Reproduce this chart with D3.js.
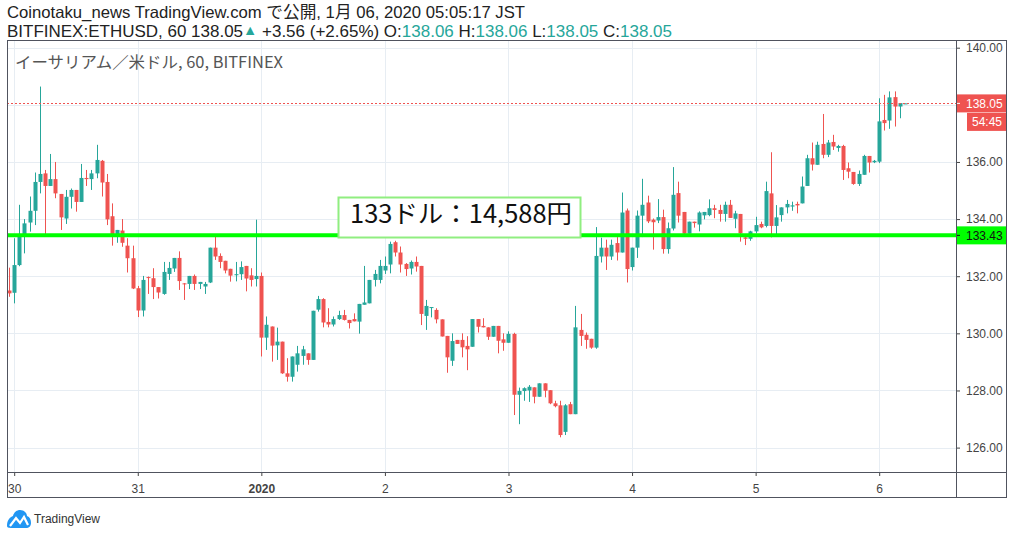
<!DOCTYPE html>
<html><head><meta charset="utf-8">
<script src="https://cdn.jsdelivr.net/npm/d3@7"></script>
<style>
html,body{margin:0;padding:0;background:#fff;}
svg{display:block;font-family:"Liberation Sans",Arial,sans-serif;}
</style></head>
<body>
<svg id="c" width="1014" height="537"></svg>
<script>
// ---- data (hourly candles, BITFINEX ETHUSD, JST) ----
const opens = [131.5,131.42,132.39,133.45,133.88,134.29,135.3,135.6,135.16,135.4,134.88,134.02,134.78,135.02,134.6,135.44,135.4,135.6,136.04,135.3,134.1,133.39,133.6,133.07,132.63,131.58,130.8,131.97,131.93,131.62,131.38,132.08,132.27,132.64,131.75,131.73,132.01,131.73,131.64,131.78,133.0,132.71,132.54,132.26,132.05,132.07,132.36,132.03,131.9,132.01,129.85,130.24,129.58,129.71,128.6,128.48,128.9,129.21,129.3,129.07,130.83,131.2,130.4,130.31,130.5,130.64,130.47,130.5,130.41,131.0,131.05,131.87,131.87,132.2,132.41,133.19,132.83,132.43,132.27,132.5,132.36,130.61,130.9,130.82,130.49,129.91,129.04,129.77,129.77,129.56,129.53,130.5,130.26,130.21,129.88,130.26,129.79,129.67,129.98,127.85,127.98,128.0,128.11,127.78,128.25,128.01,127.55,127.48,126.55,127.52,127.17,130.12,129.95,129.81,129.5,132.69,133.0,132.69,133.16,132.83,134.3,132.32,133.0,134.12,134.58,133.98,133.95,134.07,132.95,133.67,134.91,134.25,133.49,133.91,133.81,134.13,134.14,134.38,134.32,134.18,134.5,134.01,134.18,133.36,133.31,133.57,133.83,133.76,134.9,133.76,134.14,134.41,134.44,134.53,134.55,135.16,136.13,135.9,136.63,136.25,136.7,136.49,136.56,135.78,135.65,135.23,135.55,136.21,135.99,136.01,137.47,137.45,138.27,137.94,138.05];
const highs = [132.3,133.33,134.5,134.0,134.79,135.63,138.64,135.72,136.28,136.0,134.88,135.02,135.07,135.02,135.93,135.72,135.72,136.6,136.07,135.58,134.55,133.62,134.0,133.33,133.07,131.66,132.01,131.99,132.28,131.62,132.5,132.5,132.64,132.87,131.76,132.01,132.06,131.8,131.8,133.0,133.39,132.8,132.54,132.26,132.5,132.52,132.36,132.28,133.98,132.13,130.59,130.24,130.2,129.71,129.13,129.19,129.56,129.56,129.3,130.79,131.31,131.23,130.88,130.59,130.79,130.82,130.47,130.7,131.03,132.36,131.87,132.22,132.57,132.69,133.21,133.24,133.04,132.46,132.55,132.69,132.36,131.17,130.92,130.88,130.49,129.91,130.0,129.77,130.0,129.9,130.5,130.5,130.53,130.21,130.26,130.26,130.0,130.07,130.02,128.1,128.11,128.19,128.11,128.25,128.25,128.01,127.64,127.64,127.52,127.6,130.96,130.68,130.03,129.81,133.72,133.35,133.28,133.28,133.37,134.93,134.37,133.0,134.3,135.41,134.82,134.02,134.7,134.33,133.88,135.82,135.31,134.25,133.91,133.91,134.27,134.25,134.69,134.5,134.5,134.61,134.67,134.29,134.18,133.48,133.59,134.08,133.91,135.31,136.34,134.49,134.41,134.67,134.61,134.61,135.49,136.25,136.68,136.71,137.68,136.77,136.95,136.6,136.6,135.98,135.65,135.7,136.25,136.21,136.07,138.23,138.35,138.47,138.47,138.06,138.06];
const lows = [131.28,131.05,132.35,132.8,133.56,133.79,134.9,133.48,135.16,134.73,133.62,133.83,134.37,134.26,134.6,135.16,135.02,135.43,134.79,133.79,133.07,133.17,133.03,132.13,131.55,130.57,130.59,131.38,131.2,131.22,131.35,131.87,132.15,131.52,131.17,131.55,131.52,131.55,131.38,131.76,132.57,132.28,132.1,131.81,131.82,131.87,131.47,131.64,131.64,129.19,129.42,129.01,129.07,128.58,128.31,128.31,128.66,128.9,128.9,129.07,130.76,130.21,130.21,130.24,130.47,130.45,130.17,130.42,129.99,131.0,131.05,131.64,131.75,132.08,132.1,132.69,132.13,132.01,132.06,132.16,130.29,130.12,130.56,130.35,129.89,128.62,128.86,129.63,129.16,128.71,129.53,130.03,130.21,129.77,129.88,129.3,129.39,129.67,127.14,126.82,127.64,127.6,127.55,127.78,127.76,127.52,127.41,126.36,126.44,127.17,127.17,129.56,129.46,129.46,129.46,132.48,132.22,132.57,132.55,132.83,131.78,132.2,132.64,133.37,133.86,132.93,133.86,132.79,132.79,133.6,133.88,133.44,133.49,133.7,133.57,133.99,134.1,134.03,133.91,133.91,134.04,133.68,133.21,133.09,133.24,133.5,133.68,133.71,133.36,133.48,133.91,134.2,134.29,134.2,134.55,135.16,135.7,135.9,136.13,136.17,136.42,136.36,135.37,135.43,135.2,135.16,135.55,135.63,135.96,135.96,137.1,137.16,137.24,137.53,138.05];
const closes = [131.4,132.39,133.45,133.85,134.29,135.3,135.58,135.16,135.4,134.9,134.06,134.78,135.02,134.6,135.44,135.4,135.6,136.07,135.28,133.99,133.4,133.62,133.17,132.63,131.57,130.8,131.87,131.95,131.62,131.43,132.15,132.29,132.64,131.83,131.73,132.01,131.73,131.8,131.73,133.0,132.69,132.5,132.2,132.02,132.07,132.32,131.92,131.87,132.01,129.85,130.3,129.57,129.71,128.6,128.48,129.19,129.3,129.44,129.07,130.79,131.2,130.38,130.31,130.5,130.64,130.47,130.36,130.42,131.03,131.08,131.87,132.08,132.36,132.36,133.13,132.83,132.41,132.25,132.5,132.34,130.68,130.96,130.92,130.49,129.89,129.16,129.73,129.63,129.51,129.44,130.5,130.23,130.21,129.88,130.26,129.74,129.67,129.98,127.85,127.98,128.08,128.13,127.78,128.25,127.99,127.55,127.45,126.44,127.48,127.17,130.21,129.91,129.77,129.5,132.71,133.0,132.69,133.1,132.83,134.23,132.25,133.0,134.12,134.5,133.92,133.89,134.07,132.95,133.68,134.85,134.12,133.49,133.91,133.86,134.23,134.25,134.38,134.32,134.18,134.5,134.04,134.2,133.5,133.31,133.57,133.79,133.71,134.98,133.76,134.06,134.41,134.53,134.48,134.48,135.14,136.13,135.91,136.6,136.25,136.68,136.54,136.56,135.72,135.66,135.23,135.58,136.21,135.98,136.04,137.42,137.36,138.26,137.94,138.06,138.05];
const dayIndex = [1,25,49,73,97,121,145,169];
const dayLabels = ["30","31","2020","2","3","4","5","6"];
const priceTicks = [126,128,130,132,134,136,138,140];
const lastPrice = 138.05;
const levelPrice = 133.43;
const countdown = "54:45";
const annotation = "133ドル：14,588円";
const titleLine1 = "Coinotaku_news TradingView.com で公開, 1月 06, 2020 05:05:17 JST";
const symbolText = "BITFINEX:ETHUSD, 60 138.05";
const changeText = " +3.56 (+2.65%)";
const ohlcLabels = ["O:","H:","L:","C:"];
const ohlcValues = ["138.06","138.06","138.05","138.05"];
const chartName = "イーサリアム／米ドル, 60, BITFINEX";

// ---- layout ----
const UP="#26a69a", DOWN="#ef5350", GRID="#e7edf3", BORDER="#50535e";
const L=7, T=40, R=956, B=472, AR=1007, AB=498;
const svg = d3.select("#c");
const x = d3.scaleLinear().domain([1,169]).range([14.2,879.2]);
const y = d3.scaleLinear().domain([126,140]).range([447.6,47.7]);
const candles = opens.map((o,i)=>({i,o,h:highs[i],l:lows[i],c:closes[i]}));

svg.append("defs").append("clipPath").attr("id","plot")
  .append("rect").attr("x",L).attr("y",T).attr("width",R-L).attr("height",B-T);

// grid
const g = svg.append("g").attr("clip-path","url(#plot)");
g.selectAll(".hg").data(priceTicks).join("line")
  .attr("x1",L).attr("x2",R).attr("y1",d=>Math.round(y(d))+0.5).attr("y2",d=>Math.round(y(d))+0.5)
  .attr("stroke",GRID).attr("stroke-width",1);
g.selectAll(".vg").data(dayIndex).join("line")
  .attr("y1",T).attr("y2",B).attr("x1",d=>Math.round(x(d))+0.5).attr("x2",d=>Math.round(x(d))+0.5)
  .attr("stroke",GRID).attr("stroke-width",1);

// chart name
svg.append("text").attr("x",15).attr("y",68).attr("font-size",16).attr("fill","#555")
  .attr("font-family","'Noto Sans CJK JP','Liberation Sans',sans-serif")
  .attr("textLength",268).attr("lengthAdjust","spacingAndGlyphs").text(chartName);

// candles
const cg = g.append("g");
cg.selectAll(".wick").data(candles).join("line")
  .attr("x1",d=>Math.round(x(d.i))+0.5).attr("x2",d=>Math.round(x(d.i))+0.5)
  .attr("y1",d=>y(d.h)).attr("y2",d=>y(d.l))
  .attr("stroke",d=>d.c>=d.o?UP:DOWN).attr("stroke-width",1);
cg.selectAll(".body").data(candles).join("rect")
  .attr("x",d=>Math.round(x(d.i))-1.5).attr("width",4)
  .attr("y",d=>y(Math.max(d.o,d.c)))
  .attr("height",d=>Math.max(1,Math.abs(y(d.o)-y(d.c))))
  .attr("fill",d=>d.c>=d.o?UP:DOWN);

// annotation box
svg.append("rect").attr("x",338.5).attr("y",197.5).attr("width",242).attr("height",40)
  .attr("fill","#fff").attr("stroke","#90ee80").attr("stroke-width",2);
svg.append("text").attr("x",350).attr("y",223).attr("font-size",25).attr("fill","#111")
  .attr("font-family","'Noto Sans CJK JP',sans-serif")
  .attr("textLength",222).attr("lengthAdjust","spacingAndGlyphs").text(annotation);

// level line
g.append("line").attr("x1",L).attr("x2",R).attr("y1",y(levelPrice)).attr("y2",y(levelPrice))
  .attr("stroke","#00ff00").attr("stroke-width",4);
// last price line
g.append("line").attr("x1",L).attr("x2",R).attr("y1",Math.round(y(lastPrice))+0.5).attr("y2",Math.round(y(lastPrice))+0.5)
  .attr("stroke",DOWN).attr("stroke-width",1).attr("stroke-dasharray","2,2");

// price axis
const pa = svg.append("g").attr("transform",`translate(${R},0)`)
  .call(d3.axisRight(y).tickValues(priceTicks).tickFormat(d3.format(".2f")).tickSize(4).tickPadding(6));
pa.select(".domain").remove();
pa.selectAll("text").attr("font-size",12).attr("fill","#444").attr("font-family","'Liberation Sans',Arial,sans-serif");
pa.selectAll("line").attr("stroke","#444");

function axisLabel(price, text, fill, color, x0){
  const yy = y(price);
  svg.append("rect").attr("x",x0).attr("y",yy-9).attr("width",AR-x0).attr("height",18).attr("fill",fill);
  svg.append("line").attr("x1",R).attr("x2",R+4).attr("y1",yy).attr("y2",yy).attr("stroke",color);
  svg.append("text").attr("x",R+10).attr("y",yy+4.5).attr("font-size",12).attr("fill",color).text(text);
}
axisLabel(lastPrice, d3.format(".2f")(lastPrice), DOWN, "#fff", R);
svg.append("rect").attr("x",967).attr("y",y(lastPrice)+9.5).attr("width",AR-967).attr("height",18).attr("fill",DOWN);
svg.append("text").attr("x",972).attr("y",y(lastPrice)+23).attr("font-size",12).attr("fill","#fff").text(countdown);
axisLabel(levelPrice, d3.format(".2f")(levelPrice), "#00ff00", "#111", R);

// time axis
const ta = svg.append("g").attr("transform",`translate(0,${B})`)
  .call(d3.axisBottom(x).tickValues(dayIndex).tickFormat((d,i)=>dayLabels[i]).tickSize(4).tickPadding(8));
ta.select(".domain").remove();
ta.selectAll("text").attr("font-size",12).attr("fill","#444")
  .attr("font-weight",(d,i)=>dayLabels[i]==="2020"?"bold":"normal");
ta.selectAll("line").attr("stroke","#444");

// borders
const bd = svg.append("g").attr("fill","none").attr("stroke",BORDER).attr("stroke-width",1);
bd.append("rect").attr("x",L+0.5).attr("y",T+0.5).attr("width",AR-L-1).attr("height",AB-T-1);
bd.append("line").attr("x1",R+0.5).attr("x2",R+0.5).attr("y1",T).attr("y2",AB);
bd.append("line").attr("x1",L).attr("x2",AR).attr("y1",B+0.5).attr("y2",B+0.5);

// header
svg.append("text").attr("x",7).attr("y",18).attr("font-size",16.5).attr("fill","#222")
  .attr("font-family","'Liberation Sans','Noto Sans CJK JP',sans-serif")
  .attr("textLength",518).attr("lengthAdjust","spacingAndGlyphs").text(titleLine1);
const h2 = svg.append("text").attr("x",7).attr("y",37).attr("font-size",16.5).attr("fill","#222")
  .attr("textLength",665).attr("lengthAdjust","spacingAndGlyphs");
h2.append("tspan").text(symbolText);
h2.append("tspan").attr("fill",UP).attr("font-size",14).attr("dy",-2).text("▲");
h2.append("tspan").attr("dy",2).text(changeText);
ohlcLabels.forEach((lb,i)=>{
  h2.append("tspan").text(" "+lb);
  h2.append("tspan").attr("fill",UP).text(ohlcValues[i]);
});

// TradingView logo
const lg = svg.append("g").attr("transform","translate(7,510)");
lg.append("path").attr("d","M0,16 C0,10 3,7 6,6 C7,2 10,0 13,0 C17,0 20,3 20,6 C23,7 24,10 24,13 C24,16 22,18 19,18 L4,18 C1,18 0,17 0,16 Z").attr("fill","#2196f3");
lg.append("polyline").attr("points","3,16 9,8 13,13 17,7 21,15").attr("fill","none").attr("stroke","#fff").attr("stroke-width",2.2);
svg.append("text").attr("x",34).attr("y",523).attr("font-size",12).attr("fill","#333").text("TradingView");
</script>
</body></html>
